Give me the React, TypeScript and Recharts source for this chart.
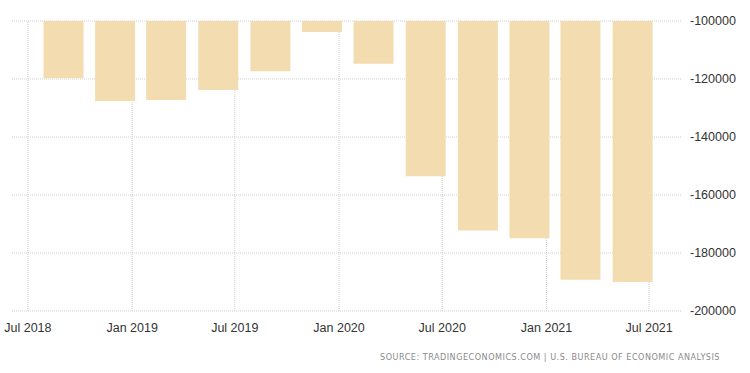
import { BarChart, Bar, XAxis, YAxis, CartesianGrid, ReferenceLine } from "recharts";

// quarter bars, placed at the date where each bar is centred
const quarters = [
  "2018-09-01", "2018-12-01", "2019-03-01", "2019-06-01",
  "2019-09-01", "2019-12-01", "2020-03-01", "2020-06-01",
  "2020-09-01", "2020-12-01", "2021-03-01", "2021-06-01",
];
const balance = [
  -119700, -127600, -127200, -123800,
  -117300, -103800, -114700, -153500,
  -172200, -174900, -189200, -190000,
];
const xTickDates = ["2018-07-01", "2019-01-01", "2019-07-01", "2020-01-01", "2020-07-01", "2021-01-01", "2021-07-01"];
const yTicks = [-100000, -120000, -140000, -160000, -180000, -200000];

const MONTHS = ["Jan", "Feb", "Mar", "Apr", "May", "Jun", "Jul", "Aug", "Sep", "Oct", "Nov", "Dec"];
const ts = (d: string) => Date.parse(d + "T00:00:00Z");

const data = quarters.map((q, i) => ({ date: ts(q), value: balance[i] }));

const fmtDate = (v: number) => {
  const d = new Date(v);
  return `${MONTHS[d.getUTCMonth()]} ${d.getUTCFullYear()}`;
};

const FONT = "'Liberation Sans', Arial, sans-serif";
const GRID = "#cfcfcf";

export default function App() {
  return (
    <div style={{ position: "relative", width: 750, height: 373, background: "#fff", fontFamily: FONT }}>
      <style>{"body{margin:0}"}</style>
      <BarChart
        width={750}
        height={373}
        data={data}
        margin={{ top: 21, right: 0, bottom: 32, left: 12 }}
      >
        <CartesianGrid stroke={GRID} strokeDasharray="1 1" vertical={false} />
        {/* vertical grid at the date ticks, kept behind the bars */}
        {xTickDates.map((d) => (
          <ReferenceLine key={d} x={ts(d)} stroke={GRID} strokeDasharray="1 1" zIndex={-50} />
        ))}
        <XAxis
          dataKey="date"
          type="number"
          scale="time"
          domain={[ts("2018-06-03"), ts("2021-08-28")]}
          ticks={xTickDates.map(ts)}
          tickFormatter={fmtDate}
          axisLine={false}
          tickLine={false}
          tickMargin={6}
          height={30}
          tick={{ fontSize: 12.5, fill: "#333", fontFamily: FONT }}
          interval={0}
        />
        <YAxis
          orientation="right"
          domain={[-200000, -100000]}
          ticks={yTicks}
          axisLine={false}
          tickLine={false}
          tickMargin={2}
          width={68}
          tick={{ fontSize: 12.5, fill: "#333", fontFamily: FONT }}
          interval={0}
        />
        <Bar dataKey="value" fill="#f3dcb0" barSize={40} isAnimationActive={false} />
      </BarChart>
      <div
        style={{
          position: "absolute",
          right: 30,
          top: 352,
          fontSize: 9,
          letterSpacing: 0.5,
          color: "#8a8a8a",
          whiteSpace: "nowrap",
          fontFamily: "'DejaVu Sans Condensed', 'DejaVu Sans', sans-serif",
        }}
      >
        SOURCE: TRADINGECONOMICS.COM | U.S. BUREAU OF ECONOMIC ANALYSIS
      </div>
    </div>
  );
}
